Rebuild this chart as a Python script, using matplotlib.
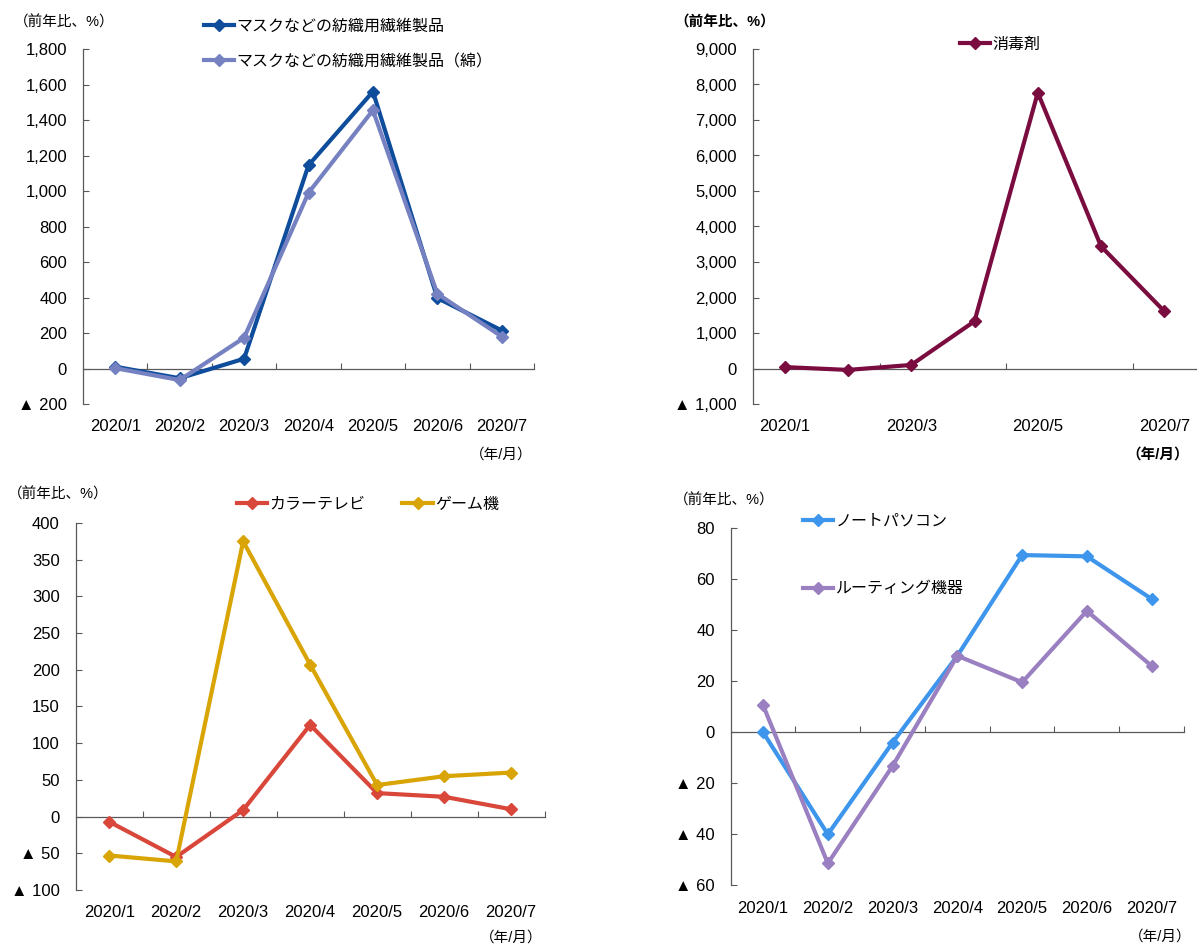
import numpy as np
import matplotlib
matplotlib.use("Agg")
import matplotlib.pyplot as plt

plt.rcParams['font.family'] = ['Liberation Sans', 'Noto Sans CJK JP', 'DejaVu Sans']

# data (前年比, %)
months = ["2020/1", "2020/2", "2020/3", "2020/4", "2020/5", "2020/6", "2020/7"]

mask = [10, -55, 55, 1145, 1560, 397, 214]
mask_cotton = [2, -65, 173, 990, 1455, 421, 180]

disinfectant = [40, -40, 100, 1330, 7770, 3440, 1610]

color_tv = [-7, -55, 9, 125, 32, 27, 10]
game = [-53, -61, 375, 207, 43, 55, 60]

note_pc = [0, -40, -4, 30, 69.5, 69, 52.3]
routing = [10.6, -51.4, -13.2, 30, 19.6, 47.6, 26]

W, H = 1197, 947
AXIS_C = "#595959"
LW = 3.0
MS = 6


def px(x, y):
    # pixel position (from top-left) -> figure fraction
    return x / W, 1 - y / H


def rect(x0, y0, x1, y1):
    return [x0 / W, 1 - y1 / H, (x1 - x0) / W, (y1 - y0) / H]


def ylab(v):
    if v < 0:
        return "▲ " + f"{-v:,.0f}"
    return f"{v:,.0f}"


def setup(ax, ylim, step, label_every=1):
    x = np.arange(len(months))
    ax.set_xlim(-0.5, len(months) - 0.5)
    ax.set_ylim(*ylim)
    for s in ["top", "right", "bottom"]:
        ax.spines[s].set_visible(False)
    ax.spines["left"].set_color(AXIS_C)
    ax.spines["left"].set_linewidth(0.9)
    yt = np.arange(ylim[0], ylim[1] + step / 2, step)
    ax.set_yticks(yt)
    ax.set_yticklabels([ylab(v) for v in yt])
    ax.tick_params(axis="y", direction="in", length=4, pad=11.5,
                   labelsize=12, color=AXIS_C)
    shown = x[::label_every]
    ax.set_xticks(shown)
    ax.set_xticklabels([months[i] for i in shown])
    ax.tick_params(axis="x", length=0, pad=11, labelsize=12)
    # category axis drawn through zero
    zero = -ylim[0] / (ylim[1] - ylim[0])
    sec = ax.secondary_xaxis(zero)
    if label_every > 1:
        bounds = np.arange(label_every - 0.5, len(months) - 0.6, label_every)
    else:
        bounds = np.arange(0.5, len(months), 1.0)
    sec.set_xticks(bounds)
    sec.tick_params(direction="in", length=4, labelbottom=False,
                    color=AXIS_C)
    sec.spines["bottom"].set_color(AXIS_C)
    sec.spines["bottom"].set_linewidth(0.9)
    return x


def put_legend(ax, lx, ly, ncol=1, spacing=1.4, colsp=2.0):
    ax.legend(loc="center left", bbox_to_anchor=px(lx, ly),
              bbox_transform=ax.figure.transFigure, frameon=False,
              fontsize=11.5, ncol=ncol, borderpad=0, borderaxespad=0,
              handlelength=1.9, handletextpad=0.15, labelspacing=spacing,
              columnspacing=colsp, numpoints=1)


fig = plt.figure(figsize=(W / 100, H / 100), dpi=100)

# top left: masks
ax1 = fig.add_axes(rect(83, 49, 534, 404))
x = setup(ax1, (-200, 1800), 200)
ax1.plot(x, mask, color="#0E4C9C", lw=LW, marker="D", ms=MS,
         label="マスクなどの紡織用繊維製品")
ax1.plot(x, mask_cotton, color="#7581C1", lw=LW, marker="D", ms=MS,
         label="マスクなどの紡織用繊維製品（綿）")
put_legend(ax1, 204, 44, spacing=1.25)

# top right: disinfectant
ax2 = fig.add_axes(rect(753, 49, 1196, 404))
x = setup(ax2, (-1000, 9000), 1000, label_every=2)
ax2.plot(x, disinfectant, color="#7B0C3F", lw=LW, marker="D", ms=MS,
         label="消毒剤")
put_legend(ax2, 960, 44)

# bottom left: TV & game
ax3 = fig.add_axes(rect(75.7, 523, 544.6, 890))
x = setup(ax3, (-100, 400), 50)
ax3.plot(x, color_tv, color="#D9473A", lw=LW, marker="D", ms=MS,
         label="カラーテレビ")
ax3.plot(x, game, color="#D9A406", lw=LW, marker="D", ms=MS,
         label="ゲーム機")
put_legend(ax3, 237, 504, ncol=2, colsp=2.3)

# bottom right: PC & routing
ax4 = fig.add_axes(rect(730.7, 528.3, 1184, 885.3))
x = setup(ax4, (-60, 80), 20)
ax4.plot(x, note_pc, color="#3D95EC", lw=LW, marker="D", ms=MS,
         label="ノートパソコン")
ax4.plot(x, routing, color="#9A80C1", lw=LW, marker="D", ms=MS,
         label="ルーティング機器")
put_legend(ax4, 803, 555, spacing=3.3)

# unit labels
for cx, cy, bold in [(64, 22, False), (725, 22, True), (58, 494, False), (724, 500, False)]:
    fig.text(*px(cx, cy), "（前年比、%）", ha="center", va="center", fontsize=10.5,
             fontweight="bold" if bold else "normal")
for cx, cy, bold in [(501, 455, False), (1158, 455, True), (511, 938, False), (1160, 937, False)]:
    fig.text(*px(cx, cy), "（年/月）", ha="center", va="center", fontsize=10.5,
             fontweight="bold" if bold else "normal")

fig.savefig("out.png", dpi=100)
